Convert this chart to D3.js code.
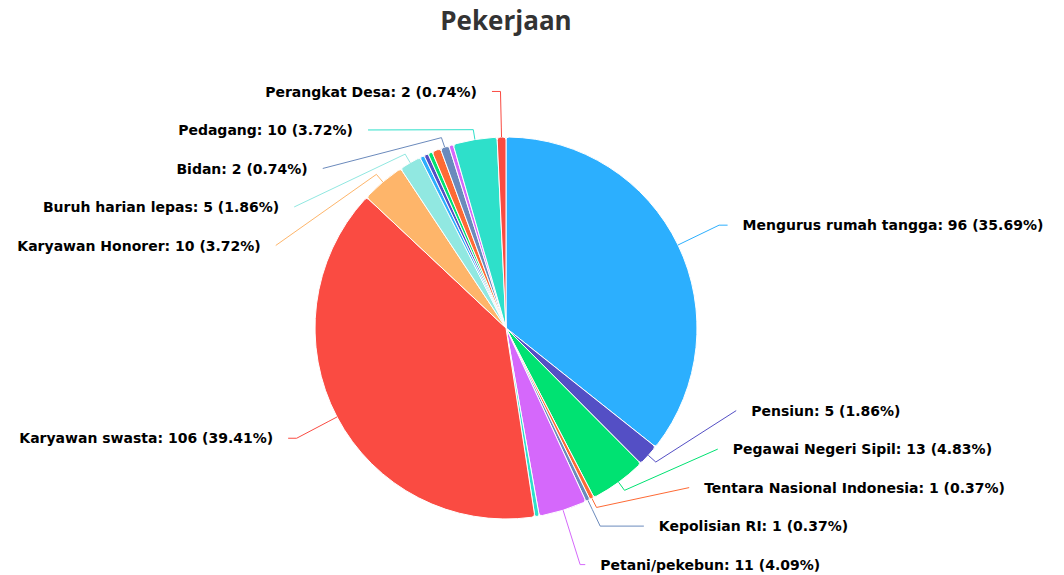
<!DOCTYPE html>
<html>
<head>
<meta charset="utf-8">
<script src="https://cdn.jsdelivr.net/npm/d3@7"></script>
<style>
  body { margin: 0; background: #fff; }
  svg { display: block; }
  .title { font-family: "Open Sans", sans-serif; font-weight: 700; font-size: 26px; fill: #333333; }
  .lbl { font-family: "DejaVu Sans", sans-serif; font-weight: 700; font-size: 14px; fill: #000;
         stroke: #fff; stroke-width: 2px; stroke-linejoin: round; paint-order: stroke; }
</style>
</head>
<body>
<div id="chart"></div>
<script>
"use strict";

// data, clockwise from 12 o'clock
var names = [
	"Mengurus rumah tangga", "Pensiun", "Pegawai Negeri Sipil", "Tentara Nasional Indonesia",
	"Kepolisian RI", "Petani/pekebun", "Nelayan/perikanan", "Karyawan swasta",
	"Karyawan Honorer", "Buruh harian lepas", "Guru", "Dosen", "Perawat", "Wiraswasta",
	"Bidan", "Sopir", "Pedagang", "Perangkat Desa"
];
var values = [96, 5, 13, 1, 1, 11, 1, 106, 10, 5, 1, 1, 1, 2, 2, 1, 10, 2];
// labels that are drawn (the rest are hidden like in the original)
var labelled = [
	"Mengurus rumah tangga", "Pensiun", "Pegawai Negeri Sipil", "Tentara Nasional Indonesia",
	"Kepolisian RI", "Petani/pekebun", "Karyawan swasta", "Karyawan Honorer",
	"Buruh harian lepas", "Bidan", "Pedagang", "Perangkat Desa"
];
var colors = ["#2caffe", "#544fc5", "#00e272", "#fe6a35", "#6b8abc",
	"#d568fb", "#2ee0ca", "#fa4b42", "#feb56a", "#91e8e1"];

var W = 1064, H = 575;
var cx = 506, cy = 328, r = 191;
var R = r + 45.6;      // label circle
var pad = 8.5;         // label padding
var gap = 38.5;        // min vertical distance between labels
var textOff = 15;

var svg = d3.select("#chart").append("svg").attr("width", W).attr("height", H);

svg.append("text").attr("class", "title")
	.attr("x", cx).attr("y", 30).attr("text-anchor", "middle")
	.text("Pekerjaan");

var total = d3.sum(values);
var data = names.map(function(n, i) { return {name: n, value: values[i], idx: i}; });

var pie = d3.pie().sort(null).value(function(d) { return d.value; });
var arcs = pie(data);

var color = d3.scaleOrdinal().domain(d3.range(names.length)).range(colors);

var arc = d3.arc().innerRadius(0).outerRadius(r).cornerRadius(3);

var g = svg.append("g").attr("transform", "translate(" + cx + "," + cy + ")");

g.selectAll("path.slice")
	.data(arcs)
	.enter().append("path")
	.attr("class", "slice")
	.attr("d", arc)
	.attr("fill", function(d) { return color(d.data.idx); })
	.attr("stroke", "#fff")
	.attr("stroke-width", 1)
	.attr("stroke-linejoin", "round");

function pt(a, rad) {
	return [cx + rad * Math.sin(a), cy - rad * Math.cos(a)];
}

// label layout, similar to highcharts
var labels = arcs.filter(function(d) { return labelled.indexOf(d.data.name) >= 0; })
	.map(function(d) {
		var m = (d.startAngle + d.endAngle) / 2;
		return {
			d: d, mid: m,
			side: m < Math.PI ? 1 : -1,
			natural: cy - R * Math.cos(m)
		};
	});

var yTop = cy - R, yBottom = cy + R;

[1, -1].forEach(function(side) {
	var list = labels.filter(function(l) { return l.side === side; })
		.sort(function(a, b) { return a.natural - b.natural; });
	list.forEach(function(l, i) {
		var y = Math.max(yTop, Math.min(yBottom, l.natural));
		if (i > 0) y = Math.max(y, list[i - 1].y + gap);
		l.y = y;
	});
	for (var i = list.length - 1; i >= 0; i--) {
		if (i === list.length - 1) list[i].y = Math.min(list[i].y, yBottom);
		else list[i].y = Math.min(list[i].y, list[i + 1].y - gap);
		list[i].y = Math.max(list[i].y, yTop);
	}
});

labels.forEach(function(l) {
	var yx = (l.y < yTop + 2 || l.y > yBottom - 2) ? l.natural : l.y;
	var dy = Math.max(-R, Math.min(R, yx - cy));
	l.x = cx + l.side * (Math.sqrt(R * R - dy * dy) + pad);

	var T = pt(l.mid, r), B = pt(l.mid, r + 10);
	var pts = [[l.x, l.y]];
	var c = Math.cos(l.mid);
	if (Math.abs(c) > 1e-6) {
		var rad = (cy - l.y) / c;
		if (rad > r + 10) {
			var C = pt(l.mid, rad);
			if (l.side * (C[0] - l.x) <= 0) pts.push(C);
		}
	}
	pts.push(B, T);
	l.path = pts;
});

svg.selectAll("path.connector")
	.data(labels)
	.enter().append("path")
	.attr("class", "connector")
	.attr("d", function(l) { return d3.line()(l.path); })
	.attr("fill", "none")
	.attr("stroke", function(l) { return color(l.d.data.idx); })
	.attr("stroke-width", 1);

svg.selectAll("text.lbl")
	.data(labels)
	.enter().append("text")
	.attr("class", "lbl")
	.attr("x", function(l) { return l.x + l.side * textOff; })
	.attr("y", function(l) { return l.y; })
	.attr("dy", "0.36em")
	.attr("text-anchor", function(l) { return l.side > 0 ? "start" : "end"; })
	.text(function(l) {
		return l.d.data.name + ": " + l.d.data.value + " (" + (l.d.data.value / total * 100).toFixed(2) + "%)";
	});
</script>
</body>
</html>
